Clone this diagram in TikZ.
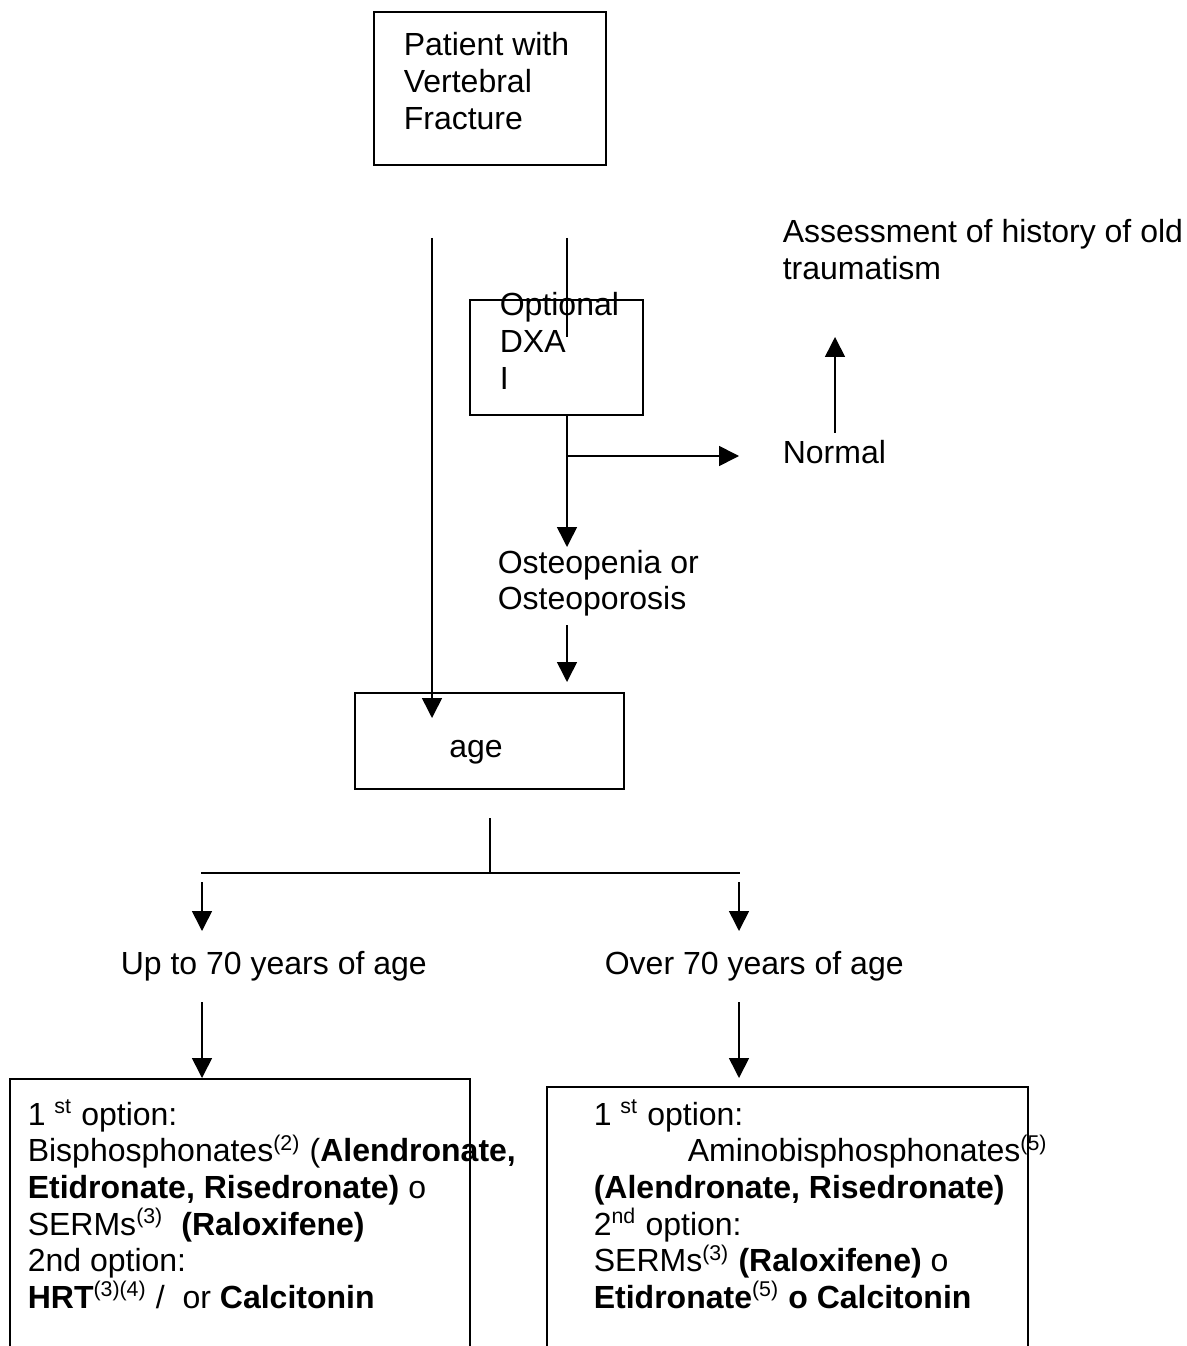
\documentclass[tikz,border=0pt]{standalone}
\usepackage{fontspec}
\setmainfont{Liberation Sans}
\usetikzlibrary{arrows.meta,fit}
\newcommand{\mlt}[1]{\parbox[t]{14cm}{\raggedright #1}}
\begin{document}
\begin{tikzpicture}[x=0.375pt,y=-0.375pt,line width=0.6pt,
  box/.style={draw,inner sep=0pt,line width=0.6pt},
  txt/.style={inner sep=0pt,anchor=base west,font=\fontsize{12pt}{13.75pt}\selectfont},
  arr/.style={-{Triangle[length=7.5pt,width=7.5pt]}}]
\useasboundingbox (0,0) rectangle (1186,1346);
\clip (0,0) rectangle (1186,1346);

% ---------- boxes ----------
\coordinate (pA) at (374,12);   \coordinate (pB) at (606,165);
\node[box,fit=(pA)(pB)] (patient) {};
\coordinate (dA) at (470,300);  \coordinate (dB) at (643,415);
\node[box,fit=(dA)(dB)] (dxa) {};
\coordinate (aA) at (355,693);  \coordinate (aB) at (624,789);
\node[box,fit=(aA)(aB)] (agebox) {};
\coordinate (lA) at (10,1079);  \coordinate (lB) at (470,1420);
\node[box,fit=(lA)(lB)] (leftbox) {};
\coordinate (rA) at (547,1087); \coordinate (rB) at (1028,1420);
\node[box,fit=(rA)(rB)] (rightbox) {};

% ---------- texts ----------
\node[txt] (patientTxt) at (403,56) {\mlt{Patient with\\Vertebral\\Fracture}};
\node[txt] (dxaTxt) at (499,316) {\mlt{Optional\\DXA\\I}};
\node[txt] (assess) at (782,243) {\mlt{Assessment of history of old\\traumatism}};
\node[txt] (normal) at (782,463) {Normal};
\node[txt] (osteo) at (497,573) {\mlt{Osteopenia or\\Osteoporosis}};
\node[txt,anchor=base] (ageTxt) at (476,757) {age};
\node[txt] (young) at (120,974) {Up to 70 years of age};
\node[txt] (old) at (604,974) {Over 70 years of age};
\node[txt] (leftTxt) at (27,1125) {\mlt{1 \textsuperscript{st} option:\\
Bisphosphonates\textsuperscript{(2)} (\textbf{Alendronate,}\\
\textbf{Etidronate, Risedronate)} o\\
SERMs\textsuperscript{(3)}\ \ \textbf{(Raloxifene)}\\
2nd option:\\
\textbf{HRT}\textsuperscript{(3)(4)} /\ \ or \textbf{Calcitonin}}};
\node[txt] (rightTxt) at (593,1125) {\mlt{1 \textsuperscript{st} option:\\
\hspace*{35.25pt}Aminobisphosphonates\textsuperscript{(5)}\\
\textbf{(Alendronate, Risedronate)}\\
2\textsuperscript{nd} option:\\
SERMs\textsuperscript{(3)} \textbf{(Raloxifene)} o\\
\textbf{Etidronate}\textsuperscript{(5)} \textbf{o Calcitonin}}};

% ---------- connector points ----------
\coordinate (l1top) at (432,238);  \coordinate (l1end) at (432,718);
\coordinate (l2top) at (567,238);  \coordinate (l2bot) at (567,337);
\coordinate (osteoIn) at (567,547);
\coordinate (branch) at (567,456); \coordinate (normalIn) at (739,456);
\coordinate (normUp) at (835,433); \coordinate (assessIn) at (835,337);
\coordinate (osteoOut) at (567,625); \coordinate (ageIn) at (567,682);
\coordinate (stemTop) at (490,818); \coordinate (stemBot) at (490,873);
\coordinate (hL) at (201,873);     \coordinate (hR) at (740,873);
\coordinate (yTop) at (202,882);   \coordinate (yEnd) at (202,931);
\coordinate (oTop) at (739,882);   \coordinate (oEnd) at (739,931);
\coordinate (yOut) at (202,1002);  \coordinate (yIn) at (202,1078);
\coordinate (oOut) at (739,1002);  \coordinate (oIn) at (739,1078);

% ---------- connectors ----------
\draw[arr] (l1top) -- (l1end);
\draw (l2top) -- (l2bot);
\draw[arr] (dxa.south -| l2top) -- (osteoIn);
\draw[arr] (branch) -- (normalIn);
\draw[arr] (normUp) -- (assessIn);
\draw[arr] (osteoOut) -- (ageIn);
\draw (stemTop) -- (stemBot);
\draw (hL) -- (hR);
\draw[arr] (yTop) -- (yEnd);
\draw[arr] (oTop) -- (oEnd);
\draw[arr] (yOut) -- (yIn);
\draw[arr] (oOut) -- (oIn);
\end{tikzpicture}
\end{document}
